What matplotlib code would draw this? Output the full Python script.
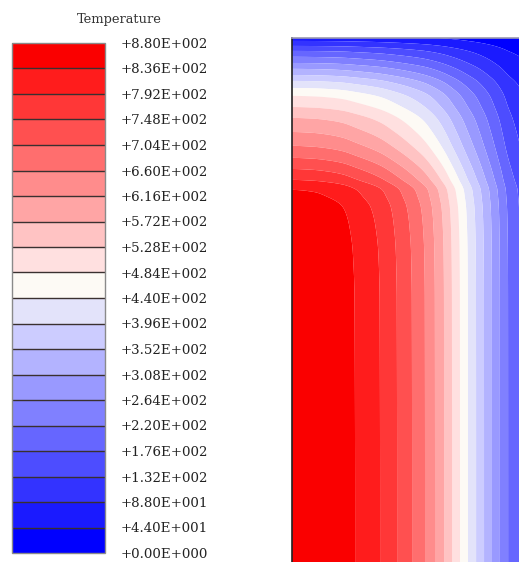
import numpy as np
import matplotlib
matplotlib.use("Agg")
import matplotlib.pyplot as plt
from matplotlib.colors import ListedColormap, BoundaryNorm
from matplotlib.ticker import FuncFormatter

# ---- data ----
levels = [0, 44, 88, 132, 176, 220, 264, 308, 352, 396, 440,
          484, 528, 572, 616, 660, 704, 748, 792, 836, 880]

# temperature along the bottom edge (z = 0) versus radial position x
x_pos = [0.000, 0.093, 0.167, 0.225, 0.278, 0.388, 0.463, 0.529, 0.586, 0.630,
         0.670, 0.705, 0.740, 0.775, 0.811, 0.846, 0.881, 0.916, 0.952, 1.000]
T_bottom = [880, 876, 867, 855, 836, 792, 748, 704, 660, 616,
            572, 528, 484, 440, 396, 352, 308, 264, 220, 180]

# temperature along the left edge (x = 0) versus height z
z_pos = [0.000, 1.154, 1.361, 1.476, 1.564, 1.608, 1.639, 1.683, 1.731, 1.780,
         1.833, 1.894, 1.956, 2.004, 2.053, 2.088, 2.119, 2.145, 2.172, 2.198,
         2.225, 2.251, 2.273, 2.295, 2.308]
T_left = [880, 879, 876, 870, 860, 847, 836, 792, 748, 704,
          660, 616, 572, 528, 484, 440, 396, 352, 308, 264,
          220, 176, 132, 88, 65]

T_max = 880

# band colours (blue -> white -> red)
band_colors = [
    "#0000ff", "#1a1aff", "#3333ff", "#4d4dff", "#6666ff",
    "#8080ff", "#9999ff", "#b3b3ff", "#ccccff", "#e3e3fa",
    "#fdfaf5", "#ffe0e0", "#ffc3c3", "#ffa5a5", "#ff8c8c",
    "#ff6e6e", "#ff5050", "#ff3737", "#ff1c1c", "#fa0000",
]


def pchip(xk, yk, xq):
    """Monotone (shape preserving) cubic interpolation."""
    xk = np.asarray(xk, float)
    yk = np.asarray(yk, float)
    h = np.diff(xk)
    d = np.diff(yk) / h
    m = np.zeros_like(yk)
    for k in range(1, len(xk) - 1):
        if d[k - 1] * d[k] > 0:
            w1 = 2 * h[k] + h[k - 1]
            w2 = h[k] + 2 * h[k - 1]
            m[k] = (w1 + w2) / (w1 / d[k - 1] + w2 / d[k])
    m[0] = 0.0
    m[-1] = d[-1]
    idx = np.clip(np.searchsorted(xk, xq) - 1, 0, len(xk) - 2)
    t = (xq - xk[idx]) / h[idx]
    h00 = 2 * t**3 - 3 * t**2 + 1
    h10 = t**3 - 2 * t**2 + t
    h01 = -2 * t**3 + 3 * t**2
    h11 = t**3 - t**2
    return (h00 * yk[idx] + h10 * h[idx] * m[idx]
            + h01 * yk[idx + 1] + h11 * h[idx] * m[idx + 1])


# ---- field: product of the two edge profiles ----
xg = np.linspace(0, 1.0, 500)
zg = np.linspace(0, 2.308, 1100)
Tx = pchip(x_pos, T_bottom, xg) / T_max
Tz = pchip(z_pos, T_left, zg)
X, Z = np.meshgrid(xg, zg)
T = np.clip(Tz[:, None] * Tx[None, :], levels[0], levels[-1] - 0.01)

cmap = ListedColormap(band_colors)
norm = BoundaryNorm(levels, cmap.N)

W, H = 519, 562
fig = plt.figure(figsize=(W / 100, H / 100), dpi=100)
fig.patch.set_facecolor("white")

ax = fig.add_axes([292 / W, 0, 227 / W, 524 / H])
cs = ax.contourf(X, Z, T, levels=levels, cmap=cmap, norm=norm, antialiased=True)
ax.set_xlim(0, 1.0)
ax.set_ylim(0, 2.308)
ax.set_xticks([])
ax.set_yticks([])
for s in ["right", "bottom"]:
    ax.spines[s].set_visible(False)
ax.spines["left"].set_color("#222222")
ax.spines["left"].set_linewidth(1.2)
ax.spines["top"].set_color("#9a9ab0")
ax.spines["top"].set_linewidth(1.2)

cax = fig.add_axes([12 / W, 9 / H, 93 / W, 510 / H])
cb = fig.colorbar(cs, cax=cax, ticks=levels, drawedges=True)
cb.dividers.set_color("#3a3030")
cb.dividers.set_linewidth(1.0)
cb.outline.set_edgecolor("#8a8a8a")
cb.outline.set_linewidth(1.0)


def fmt(v, pos):
    m = "%.2E" % v
    mant, ex = m.split("E")
    e = int(ex)
    return "+%sE%s%03d" % (mant, "+" if e >= 0 else "-", abs(e))


cb.ax.yaxis.set_major_formatter(FuncFormatter(fmt))
cb.ax.tick_params(length=0, pad=11, labelsize=9.6, labelcolor="#222222")
for lab in cb.ax.get_yticklabels():
    lab.set_family("DejaVu Serif")

fig.text(119 / W, 1 - 19 / H, "Temperature", ha="center", va="center",
         family="DejaVu Serif", fontsize=9.4, color="#333333")

fig.savefig("out.png", dpi=100, facecolor="white")
